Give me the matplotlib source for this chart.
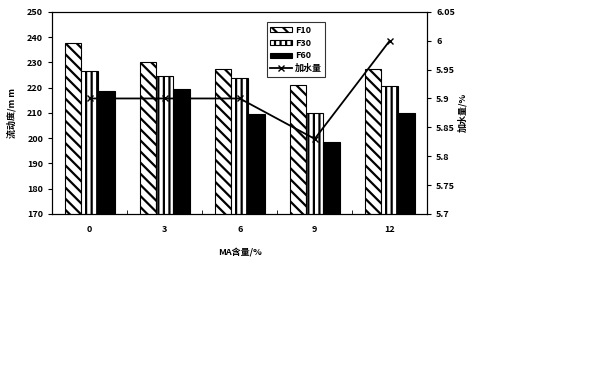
import numpy as np
import matplotlib
matplotlib.use("Agg")
from matplotlib import pyplot as plt

plt.rcParams['font.family'] = ['Noto Sans CJK SC', 'DejaVu Sans']
plt.rcParams['hatch.linewidth'] = 1.6

# data
categories = ['0', '3', '6', '9', '12']
f10 = [237.7, 230.3, 227.5, 221.0, 227.5]
f30 = [226.6, 224.8, 224.0, 210.0, 220.5]
f60 = [218.6, 219.4, 209.5, 198.5, 210.0]
water = [5.90, 5.90, 5.90, 5.83, 6.00]

fig = plt.figure(figsize=(6, 3.84), dpi=100)
ax = fig.add_axes([0.087, 0.443, 0.625, 0.526])

x = np.arange(len(categories))
w = 0.222
fs = 6.5
b1 = ax.bar(x - w, f10, w, color='white', edgecolor='black',
            hatch='\\\\\\', linewidth=0.8, label='F10')
b2 = ax.bar(x, f30, w, color='white', edgecolor='black',
            hatch='|||', linewidth=0.8, label='F30')
b3 = ax.bar(x + w, f60, w, color='black', edgecolor='black',
            linewidth=0.8, label='F60')

ax.set_xlim(-0.5, len(categories) - 0.5)
ax.set_ylim(170, 250)
ax.set_yticks(np.arange(170, 251, 10))
ax.set_xticks(x)
ax.set_xticklabels(categories, fontsize=fs, fontweight='bold')
ax.set_xticks(np.arange(0.5, len(categories) - 0.5, 1), minor=True)
ax.tick_params(axis='x', which='major', length=0, pad=8)
ax.tick_params(axis='x', which='minor', length=3, direction='in')
ax.tick_params(axis='y', length=3, labelsize=fs, width=0.8)
for t in ax.get_yticklabels():
    t.set_fontweight('bold')
ax.set_xlabel('MA含量/%', fontsize=fs, fontweight='bold', labelpad=10)
ax.set_ylabel('流动度/m m', fontsize=fs, fontweight='bold', labelpad=8)

ax2 = ax.twinx()
ln, = ax2.plot(x, water, color='black', marker='x', markersize=4,
               linewidth=1.3, label='加水量')
ax2.set_ylim(5.7, 6.05)
ax2.set_yticks([5.7, 5.75, 5.8, 5.85, 5.9, 5.95, 6.0, 6.05])
ax2.set_yticklabels(['5.7', '5.75', '5.8', '5.85', '5.9', '5.95', '6', '6.05'],
                    fontsize=fs, fontweight='bold')
ax2.tick_params(axis='y', length=3, width=0.8)
ax2.set_ylabel('加水量/%', fontsize=fs, fontweight='bold', rotation=90,
               labelpad=2)

for a in (ax, ax2):
    for s in a.spines.values():
        s.set_linewidth(0.8)

leg = ax2.legend([b1, b2, b3, ln], ['F10', 'F30', 'F60', '加水量'],
                 loc='upper left', bbox_to_anchor=(0.56, 0.97),
                 fontsize=fs, frameon=True, fancybox=False,
                 handlelength=2.4, handleheight=0.5, handletextpad=0.3,
                 borderpad=0.4, labelspacing=0.4)
leg.get_frame().set_edgecolor('black')
leg.get_frame().set_linewidth(0.8)
for t in leg.get_texts():
    t.set_fontweight('bold')

fig.savefig('out.png', dpi=100)
